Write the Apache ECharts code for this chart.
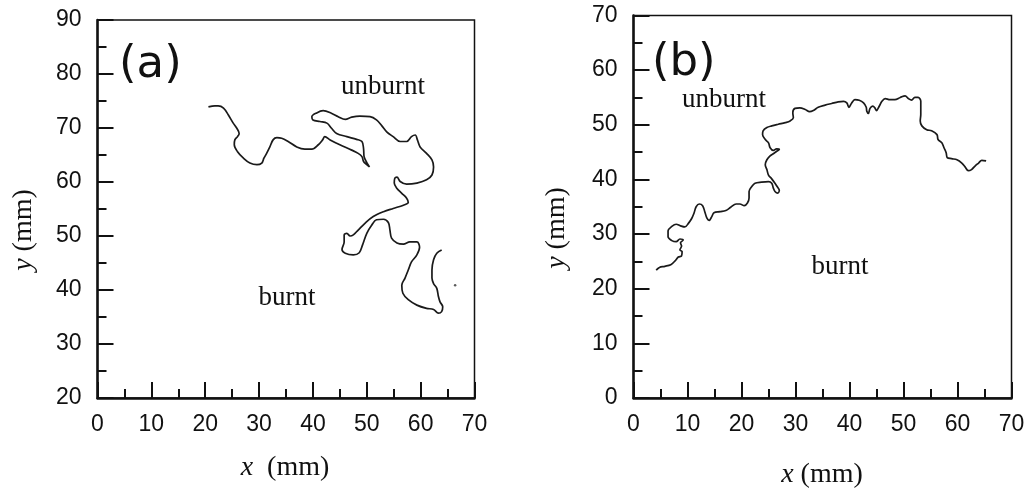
<!DOCTYPE html>
<html>
<head>
<meta charset="utf-8">
<script src="https://cdn.jsdelivr.net/npm/echarts@6/dist/echarts.min.js"></script>
<style>
html,body{margin:0;padding:0;background:#fff;}
#chart{width:1030px;height:496px;}
</style>
</head>
<body>
<div id="chart"></div>
<script>
// ---- Data (mm) ----
const xTicks = [0, 10, 20, 30, 40, 50, 60, 70];
const yTicksA = [20, 30, 40, 50, 60, 70, 80, 90];
const yTicksB = [0, 10, 20, 30, 40, 50, 60, 70];

// Panel (a): flame front trace [x, y]
const frontA = [
  [20.6,73.9],[21.8,74.1],[22.4,74.1],[23.4,73.7],[24.3,72.4],[25.2,70.9],[25.9,69.9],[26.3,69.0],
  [26.0,68.4],[25.5,67.8],[25.4,66.9],[26.0,65.6],[27.1,64.4],[28.3,63.5],[29.6,63.2],[30.5,63.5],
  [30.9,64.4],[31.4,65.3],[32.0,66.5],[32.6,67.8],[33.3,68.2],[34.2,68.1],[35.4,67.5],[37.0,66.5],
  [38.5,66.1],[39.8,66.1],[41.0,66.9],[41.8,67.8],[42.2,68.4],[43.2,67.8],[45.0,66.9],[47.2,65.9],
  [48.4,65.3],[49.1,64.7],[49.4,63.8],[50.0,63.2],[50.5,62.8],
  [50.0,63.6],[49.5,64.7],[49.4,66.2],[49.1,67.5],[48.1,67.9],[46.3,68.4],[44.4,69.0],[43.5,69.9],
  [42.6,70.9],[41.3,71.2],[40.0,71.5],[39.8,72.1],[40.7,72.8],[41.9,73.2],[43.5,72.7],[44.7,72.1],
  [46.0,71.6],[47.2,72.0],[48.7,72.2],[50.6,72.1],[51.8,71.5],[52.8,70.4],[53.7,69.3],[54.9,68.4],
  [56.2,67.5],[57.4,67.5],[58.3,68.4],[59.0,68.7],[59.4,67.8],[59.9,66.5],[61.1,65.3],[62.1,64.1],
  [62.4,62.8],[62.1,61.3],[61.1,60.4],[59.3,59.8],[57.4,59.6],[56.2,60.1],[55.6,60.9],[55.2,60.7],
  [55.1,59.8],[55.6,58.8],[56.5,57.9],[57.4,57.0],[57.7,56.2],[56.8,55.7],[54.9,55.1],[53.1,54.5],
  [51.2,53.6],[49.7,52.4],[48.4,51.1],[47.5,50.2],[46.9,50.0],[46.3,50.5],[45.8,50.2],[45.8,48.9],
  [45.4,47.5],[46.0,46.8],[47.5,46.5],[48.6,46.9],[49.2,48.3],[50.0,50.5],[50.9,52.0],[51.8,53.0],
  [53.1,53.1],[54.0,52.5],[54.3,51.1],[54.6,49.6],[55.6,48.7],[56.8,48.5],[58.0,48.9],[59.3,48.9],
  [59.8,47.9],[59.3,46.5],[58.3,45.2],[57.7,43.7],[57.1,42.2],[56.5,40.9],[56.7,39.4],[57.7,38.2],
  [59.3,37.2],[61.1,36.6],[62.4,36.4],[63.3,35.7],[63.9,36.0],[64.1,36.9],[63.6,37.8],[63.3,38.8],
  [63.0,40.3],[62.4,41.2],[62.1,42.2],[62.1,43.7],[62.4,45.6],[63.0,46.8],[63.9,47.4]
];
const dotA = [[66.4, 40.9]];

// Panel (b): flame front trace [x, y]
const frontB = [
  [4.2,23.4],[4.8,23.9],[5.8,24.1],[6.9,24.4],[7.7,25.1],[8.3,25.8],[8.9,26.0],[9.0,26.8],
  [8.6,27.1],[8.9,27.8],[8.7,28.4],[9.2,28.9],[8.6,29.1],[7.9,28.6],[7.1,28.8],[6.4,29.5],
  [6.4,30.6],[7.1,31.4],[7.9,31.8],[8.7,31.5],[9.5,31.3],[10.2,32.0],[10.8,32.9],[11.2,33.8],
  [11.6,35.0],[12.2,35.5],[12.8,35.2],[13.2,34.1],[13.6,32.9],[14.0,32.5],[14.5,33.2],[14.9,33.9],
  [16.0,34.1],[17.1,34.3],[18.0,34.9],[19.0,35.5],[19.7,35.5],[20.5,35.2],[21.1,35.7],[21.4,36.6],
  [21.4,37.8],[21.9,38.7],[22.5,39.3],[23.7,39.5],[25.0,39.6],[25.6,39.3],[25.9,38.4],[26.2,37.8],
  [26.7,37.5],[27.0,38.0],[26.6,38.7],[26.2,39.3],[25.6,40.1],[25.0,40.8],[24.7,41.8],[24.4,42.7],
  [24.7,43.6],[25.3,44.3],[25.9,44.7],[26.6,45.2],[27.0,45.5],[26.5,45.6],[25.9,45.3],[25.3,45.8],
  [25.0,46.7],[24.4,47.3],[23.9,48.2],[24.0,48.9],[24.7,49.5],[25.6,49.8],[26.8,50.1],[28.1,50.4],
  [29.0,50.7],[29.6,51.3],[29.5,52.2],[29.9,53.0],[30.8,53.1],[31.8,52.8],[32.6,52.4],[33.3,52.6],
  [34.2,53.2],[35.5,53.6],[36.7,53.9],[37.9,54.2],[38.9,54.3],[39.5,54.0],[39.9,53.2],[40.4,54.0],
  [41.0,54.6],[41.8,54.5],[42.6,54.0],[43.1,53.2],[43.2,52.5],[43.5,52.1],[43.8,53.0],[44.3,53.4],
  [44.7,53.1],[45.0,52.6],[45.5,53.4],[46.0,54.3],[46.6,54.8],[47.5,54.6],[48.4,54.6],[49.4,55.0],
  [50.3,55.3],[50.9,54.8],[51.5,54.5],[52.1,55.0],[52.7,55.0],[53.2,54.3],[53.2,53.1],[53.2,51.9],
  [53.1,50.7],[53.4,49.8],[54.3,49.1],[55.2,48.9],[56.2,48.2],[56.4,47.3],[57.1,46.7],[57.5,45.8],
  [57.9,44.9],[58.1,44.0],[58.9,43.8],[59.9,43.6],[60.8,43.0],[61.4,42.3],[62.0,41.6],[62.6,41.8],
  [63.2,42.4],[63.9,43.0],[64.5,43.5],[65.3,43.4]
];

// ---- Chart ----
const chart = echarts.init(document.getElementById('chart'), null, {renderer: 'canvas'});
const INK = '#111';
const tickFont = 'Liberation Sans, Arial, sans-serif';
const serif = 'Liberation Serif, Times New Roman, serif';

function xAxisCfg(gi) {
  return {
    gridIndex: gi, type: 'value', min: xTicks[0], max: xTicks[xTicks.length - 1], interval: 10,
    axisLine: {show: true, onZero: false, lineStyle: {color: INK, width: 2.5}},
    axisTick: {show: true, inside: true, length: 16, lineStyle: {color: INK, width: 2}},
    minorTick: {show: true, splitNumber: 2, length: 9, lineStyle: {color: INK, width: 2}},
    splitLine: {show: false},
    axisLabel: {color: INK, fontSize: 23, fontFamily: tickFont, margin: 15}
  };
}
function yAxisCfg(gi, ticks) {
  return {
    gridIndex: gi, type: 'value', min: ticks[0], max: ticks[ticks.length - 1], interval: 10,
    axisLine: {show: true, onZero: false, lineStyle: {color: INK, width: 2.5}},
    axisTick: {show: true, inside: true, length: 16, lineStyle: {color: INK, width: 2}},
    minorTick: {show: true, splitNumber: 2, length: 9, lineStyle: {color: INK, width: 2}},
    splitLine: {show: false},
    axisLabel: {color: INK, fontSize: 23, fontFamily: tickFont, margin: 16}
  };
}

function label(text, x, y, size, extra) {
  return Object.assign({
    type: 'text', x: x, y: y, silent: true,
    style: {
      text: text, fill: INK, font: size + 'px ' + serif,
      align: 'center', verticalAlign: 'middle',
      rich: {i: {fontStyle: 'italic', fontSize: size, fontFamily: serif, fill: INK}}
    }
  }, extra || {});
}

const option = {
  backgroundColor: '#fff',
  animation: false,
  grid: [
    {left: 97.5, top: 20, width: 377, height: 378, show: true, borderColor: INK, borderWidth: 1.5, containLabel: false},
    {left: 633.5, top: 15.5, width: 378, height: 382.5, show: true, borderColor: INK, borderWidth: 1.5, containLabel: false}
  ],
  xAxis: [xAxisCfg(0), xAxisCfg(1)],
  yAxis: [yAxisCfg(0, yTicksA), yAxisCfg(1, yTicksB)],
  series: [
    {type: 'line', xAxisIndex: 0, yAxisIndex: 0, data: frontA, showSymbol: false, smooth: 0.35,
     lineStyle: {color: '#1a1a1a', width: 1.7}},
    {type: 'scatter', xAxisIndex: 0, yAxisIndex: 0, data: dotA, symbolSize: 2.5,
     itemStyle: {color: '#333'}},
    {type: 'line', xAxisIndex: 1, yAxisIndex: 1, data: frontB, showSymbol: false, smooth: 0.35,
     lineStyle: {color: '#1a1a1a', width: 1.7}}
  ],
  graphic: [
    {type: 'text', x: 119, y: 65, silent: true,
     style: {text: '(a)', fill: INK, font: '45px DejaVu Sans', align: 'left', verticalAlign: 'middle'}},
    {type: 'text', x: 652, y: 63, silent: true,
     style: {text: '(b)', fill: INK, font: '45px DejaVu Sans', align: 'left', verticalAlign: 'middle'}},
    label('unburnt', 383, 87, 27),
    label('burnt', 287, 298, 27),
    label('unburnt', 724, 100, 27),
    label('burnt', 840, 267, 27),
    label('{i|x}  (mm)', 285, 468, 28),
    label('{i|x} (mm)', 822, 475, 28),
    label('{i|y} (mm)', 24, 230, 28, {rotation: Math.PI / 2}),
    label('{i|y} (mm)', 557, 228, 28, {rotation: Math.PI / 2})
  ]
};
chart.setOption(option);
</script>
</body>
</html>
